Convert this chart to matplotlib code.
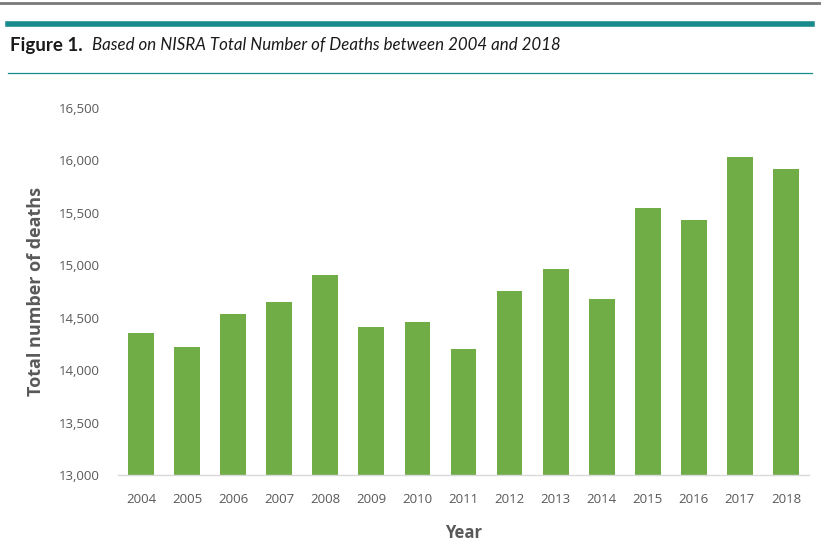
import matplotlib
matplotlib.use("Agg")
import matplotlib.pyplot as plt
from matplotlib.lines import Line2D
from matplotlib.ticker import FuncFormatter

years = ["2004", "2005", "2006", "2007", "2008", "2009", "2010", "2011",
         "2012", "2013", "2014", "2015", "2016", "2017", "2018"]
deaths = [14354, 14224, 14532, 14649, 14907, 14413, 14457, 14204,
          14756, 14968, 14678, 15548, 15430, 16036, 15922]
y_ticks = [13000, 13500, 14000, 14500, 15000, 15500, 16000, 16500]

W, H = 821, 558
fig = plt.figure(figsize=(W / 100, H / 100), dpi=100)
fig.patch.set_facecolor("white")

def fx(px):
    return px / W

def fy(py):
    return 1 - py / H

# decorative rules
fig.add_artist(Line2D([0, 1], [fy(3), fy(3)], color="#7a7a7a", lw=2.0))
fig.add_artist(Line2D([fx(8), fx(812)], [fy(24), fy(24)], color="#178a8c", lw=4.0))
fig.add_artist(Line2D([fx(8), fx(812)], [fy(73), fy(73)], color="#178a8c", lw=0.9))

fig.text(fx(10), fy(45), "Figure 1.", fontsize=13.5, fontweight="bold",
         family="Lato", va="center", ha="left", color="#1a1a1a")
fig.text(fx(92), fy(45), "Based on NISRA Total Number of Deaths between 2004 and 2018",
         fontsize=12.2, style="italic", family="Lato", va="center", ha="left",
         color="#1a1a1a")

ax = fig.add_axes([fx(118), fy(475), fx(809) - fx(118), fy(108) - fy(475)])
x = list(range(len(years)))
ax.bar(x, deaths, width=0.56, color="#70ad47", zorder=2)
ax.set_ylim(13000, 16500)
ax.set_xlim(-0.5, len(years) - 0.5)
ax.set_yticks(y_ticks)
ax.yaxis.set_major_formatter(FuncFormatter(lambda v, p: f"{int(v):,}"))
ax.set_xticks(x)
ax.set_xticklabels(years)

for s in ["top", "right", "left"]:
    ax.spines[s].set_visible(False)
ax.spines["bottom"].set_color("#d9d9d9")
ax.spines["bottom"].set_linewidth(1.0)
ax.tick_params(axis="both", length=0, colors="#595959")
ax.tick_params(axis="y", pad=13)
ax.tick_params(axis="x", pad=13)
for lab in ax.get_xticklabels() + ax.get_yticklabels():
    lab.set_family("Open Sans")
    lab.set_fontsize(9.5)

ax.set_ylabel("Total number of deaths", fontsize=13, fontweight="bold",
              color="#595959", family="Open Sans", labelpad=10)
ax.set_xlabel("Year", fontsize=12, fontweight="bold", color="#595959",
              family="Open Sans", labelpad=13)

fig.savefig("out.png", dpi=100)
